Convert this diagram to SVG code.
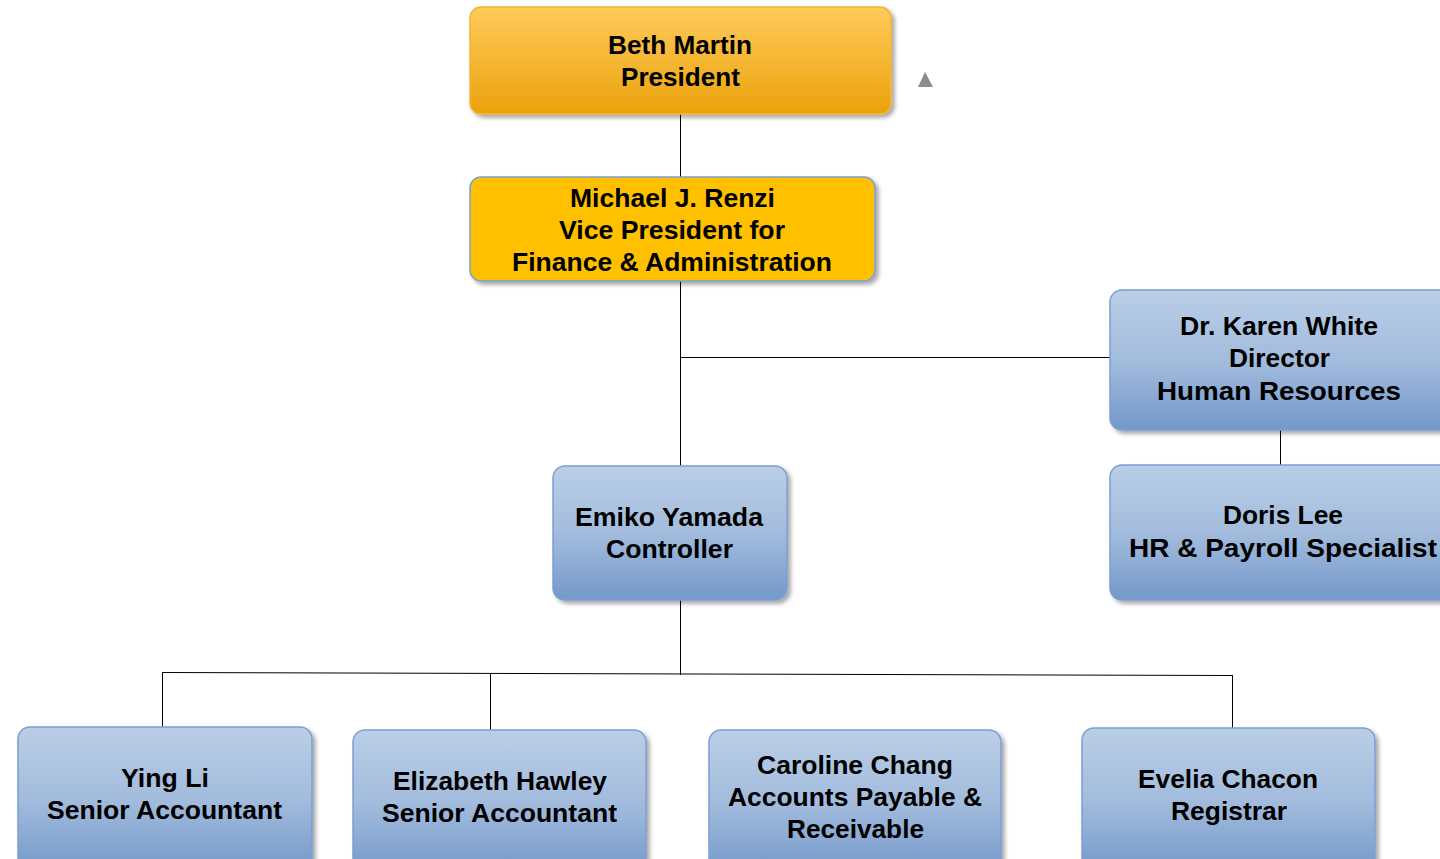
<svg xmlns="http://www.w3.org/2000/svg" width="1440" height="859" viewBox="0 0 1440 859">
<defs>
<linearGradient id="gold" x1="0" y1="0" x2="0" y2="1"><stop offset="0" stop-color="#FECB5A"/><stop offset="1" stop-color="#EBA20C"/></linearGradient>
<linearGradient id="blue" x1="0" y1="0" x2="0" y2="1"><stop offset="0" stop-color="#BACEE6"/><stop offset="0.5" stop-color="#A3BCDD"/><stop offset="1" stop-color="#7398CA"/></linearGradient>
<filter id="sh" x="-10%" y="-10%" width="125%" height="130%"><feDropShadow dx="3" dy="3" stdDeviation="2" flood-color="#000" flood-opacity="0.35"/></filter>
</defs>
<style>
.b{fill:url(#blue);stroke:#7C9FD2;stroke-width:1.5;filter:url(#sh)}
.t{font-family:"Liberation Sans",Arial,sans-serif;font-weight:bold;font-size:26px;fill:#000;text-anchor:middle}
.c{stroke:#000;stroke-width:1;fill:none}
</style>
<rect width="1440" height="859" fill="#fff"/>
<g id="connectors">
<line class="c" x1="680.5" y1="114" x2="680.5" y2="177"/>
<line class="c" x1="680.5" y1="281" x2="680.5" y2="466"/>
<line class="c" x1="680" y1="357.5" x2="1110" y2="357.5"/>
<line class="c" x1="1280.5" y1="430" x2="1280.5" y2="465"/>
<line class="c" x1="680.5" y1="600" x2="680.5" y2="675"/>
<line class="c" x1="162" y1="672.5" x2="1232" y2="675.5"/>
<line class="c" x1="162.5" y1="672" x2="162.5" y2="727"/>
<line class="c" x1="490.5" y1="673" x2="490.5" y2="730"/>
<line class="c" x1="1232.5" y1="675" x2="1232.5" y2="729"/>
</g>
<polygon id="marker-triangle" points="918,87 925,72 933,87" fill="#8C8C8C"/>
<g id="beth">
<rect x="470" y="7" width="421" height="107" rx="11" fill="url(#gold)" stroke="#F2B533" stroke-width="1.5" filter="url(#sh)"/>
<text class="t" x="680" y="54" textLength="144" lengthAdjust="spacingAndGlyphs">Beth Martin</text>
<text class="t" x="680.5" y="86" textLength="119" lengthAdjust="spacingAndGlyphs">President</text>
</g>
<g id="michael">
<rect x="470" y="177" width="405" height="104" rx="11" fill="#FFC000" stroke="#7C9FD2" stroke-width="1.5" filter="url(#sh)"/>
<text class="t" x="672.5" y="207" textLength="205" lengthAdjust="spacingAndGlyphs">Michael J. Renzi</text>
<text class="t" x="672" y="239" textLength="226" lengthAdjust="spacingAndGlyphs">Vice President for</text>
<text class="t" x="672" y="271" textLength="320" lengthAdjust="spacingAndGlyphs">Finance &amp; Administration</text>
</g>
<g id="karen">
<rect class="b" x="1110" y="290" width="345" height="140" rx="12"/>
<text class="t" x="1279" y="335" textLength="198" lengthAdjust="spacingAndGlyphs">Dr. Karen White</text>
<text class="t" x="1279.5" y="367" textLength="101" lengthAdjust="spacingAndGlyphs">Director</text>
<text class="t" x="1279" y="400" textLength="244" lengthAdjust="spacingAndGlyphs">Human Resources</text>
</g>
<g id="doris">
<rect class="b" x="1110" y="465" width="345" height="135" rx="12"/>
<text class="t" x="1283" y="524" textLength="120" lengthAdjust="spacingAndGlyphs">Doris Lee</text>
<text class="t" x="1283" y="557" textLength="308" lengthAdjust="spacingAndGlyphs">HR &amp; Payroll Specialist</text>
</g>
<g id="emiko">
<rect class="b" x="553" y="466" width="234" height="134" rx="12"/>
<text class="t" x="669" y="526" textLength="188" lengthAdjust="spacingAndGlyphs">Emiko Yamada</text>
<text class="t" x="669.5" y="558" textLength="127" lengthAdjust="spacingAndGlyphs">Controller</text>
</g>
<g id="ying">
<rect class="b" x="18" y="727" width="294" height="145" rx="12"/>
<text class="t" x="165" y="787" textLength="88" lengthAdjust="spacingAndGlyphs">Ying Li</text>
<text class="t" x="164.5" y="819" textLength="235" lengthAdjust="spacingAndGlyphs">Senior Accountant</text>
</g>
<g id="elizabeth">
<rect class="b" x="353" y="730" width="293" height="145" rx="12"/>
<text class="t" x="500" y="790" textLength="214" lengthAdjust="spacingAndGlyphs">Elizabeth Hawley</text>
<text class="t" x="499.5" y="822" textLength="235" lengthAdjust="spacingAndGlyphs">Senior Accountant</text>
</g>
<g id="caroline">
<rect class="b" x="709" y="730" width="292" height="145" rx="12"/>
<text class="t" x="855" y="774" textLength="196" lengthAdjust="spacingAndGlyphs">Caroline Chang</text>
<text class="t" x="855" y="806" textLength="254" lengthAdjust="spacingAndGlyphs">Accounts Payable &amp;</text>
<text class="t" x="855.5" y="838" textLength="137" lengthAdjust="spacingAndGlyphs">Receivable</text>
</g>
<g id="evelia">
<rect class="b" x="1082" y="728" width="293" height="145" rx="12"/>
<text class="t" x="1228" y="788" textLength="180" lengthAdjust="spacingAndGlyphs">Evelia Chacon</text>
<text class="t" x="1229" y="820" textLength="116" lengthAdjust="spacingAndGlyphs">Registrar</text>
</g>
</svg>
